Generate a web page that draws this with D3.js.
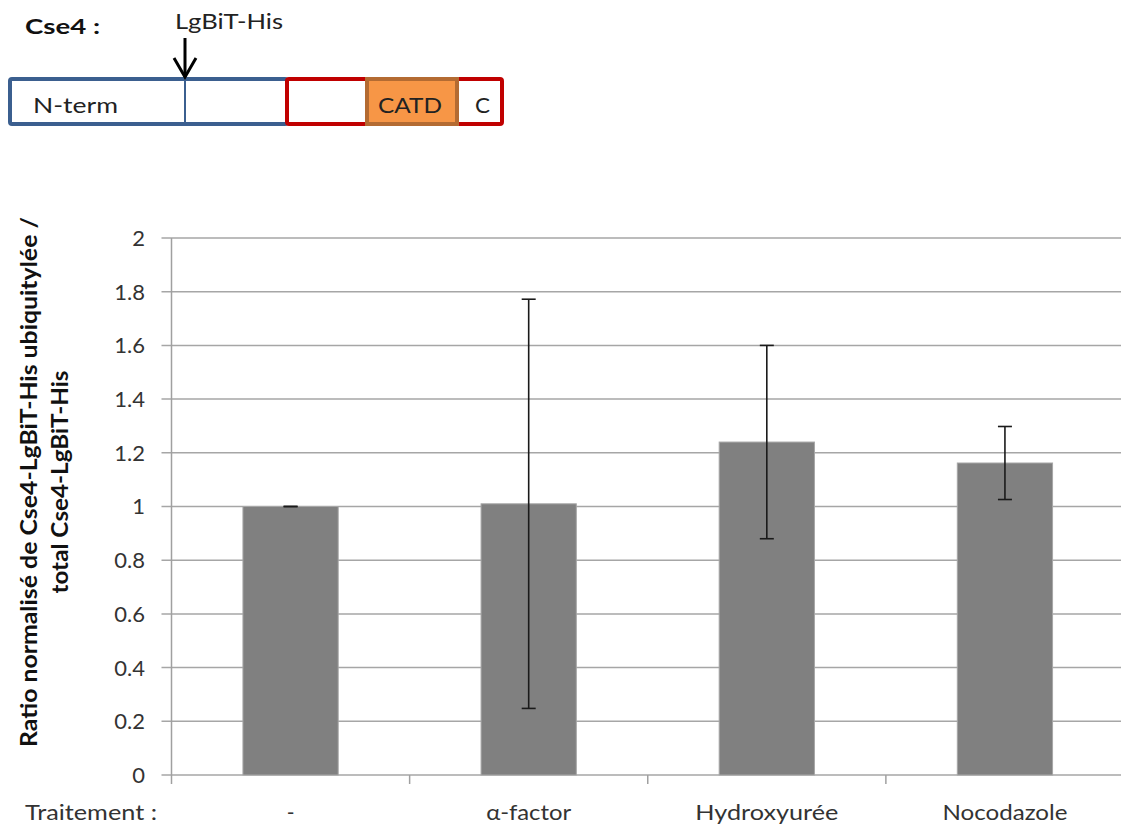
<!DOCTYPE html>
<html>
<head>
<meta charset="utf-8">
<script src="https://cdn.jsdelivr.net/npm/d3@7"></script>
<style>
  html, body { margin: 0; padding: 0; background: #fff; }
  svg { display: block; }
  text { font-family: Lato, "Open Sans", sans-serif; }
</style>
</head>
<body>
<svg id="chart" width="1121" height="827"></svg>
<script>
// ---- data ----
const categories = ["-", "α-factor", "Hydroxyurée", "Nocodazole"];
const values = [1.0, 1.01, 1.24, 1.162];
const errors = [0.0, 0.762, 0.36, 0.136];
const yTicks = [0, 0.2, 0.4, 0.6, 0.8, 1, 1.2, 1.4, 1.6, 1.8, 2];
const yTitleLines = ["Ratio normalisé  de Cse4-LgBiT-His ubiquitylée /", "total Cse4-LgBiT-His"];
const xAxisPrefix = "Traitement :";
// protein diagram segments
const domains = [
  { name: "N-term", start: 0, end: 277, stroke: "#3b5f8f", fill: "#ffffff" },
  { name: "",       start: 277, end: 492, stroke: "#c00000", fill: "#ffffff" },
  { name: "CATD",   start: 357, end: 447, stroke: "#b46b32", fill: "#f79646" }
];
const tagPosition = 175;

// ---- text rendering widths (layout, to mimic the reference's stretched font) ----
const labelWidths = { "α-factor": 85, "Hydroxyurée": 143, "Nocodazole": 125 };

const svg = d3.select("#chart");

function fit(sel, w) {
  if (w) sel.attr("textLength", w).attr("lengthAdjust", "spacingAndGlyphs");
  return sel;
}

// ---- protein diagram ----
const dx = d3.scaleLinear().domain([0, 492]).range([10, 502]);
const dTop = 79, dBot = 124;
const diag = svg.append("g");

fit(diag.append("text").attr("x", 25).attr("y", 34)
  .attr("font-size", 21).attr("font-weight", "bold").attr("fill", "#111")
  .text("Cse4 :"), 75);
fit(diag.append("text").attr("x", 175).attr("y", 29)
  .attr("font-size", 21).attr("fill", "#222")
  .text("LgBiT-His"), 108);

domains.forEach((d, i) => {
  diag.append("rect")
    .attr("x", dx(d.start)).attr("y", dTop)
    .attr("width", dx(d.end) - dx(d.start)).attr("height", dBot - dTop)
    .attr("rx", i < 2 ? 2 : 0)
    .attr("fill", d.fill).attr("stroke", d.stroke).attr("stroke-width", 4);
});
diag.append("line")
  .attr("x1", dx(tagPosition)).attr("x2", dx(tagPosition))
  .attr("y1", dTop).attr("y2", dBot)
  .attr("stroke", domains[0].stroke).attr("stroke-width", 2);
diag.append("line")
  .attr("x1", dx(tagPosition)).attr("x2", dx(tagPosition))
  .attr("y1", 38).attr("y2", 77)
  .attr("stroke", "#000").attr("stroke-width", 3);
diag.append("path")
  .attr("d", `M${dx(tagPosition) - 11},58 L${dx(tagPosition)},77 L${dx(tagPosition) + 11},58`)
  .attr("fill", "none").attr("stroke", "#000").attr("stroke-width", 3);
fit(diag.append("text").attr("x", 33).attr("y", 113)
  .attr("font-size", 21).attr("fill", "#222").text("N-term"), 85);
fit(diag.append("text").attr("x", 378).attr("y", 113)
  .attr("font-size", 21).attr("fill", "#222").text("CATD"), 64);
fit(diag.append("text").attr("x", 475).attr("y", 113)
  .attr("font-size", 21).attr("fill", "#222").text("C"), 15);

// ---- bar chart ----
const pLeft = 171.5, pRight = 1124, pTop = 238, pBottom = 775;
const x = d3.scaleBand().domain(categories).range([pLeft, pRight]).padding(0);
const y = d3.scaleLinear().domain([0, 2]).range([pBottom, pTop]);
const barW = x.bandwidth() * 0.4;

svg.append("g").selectAll("line").data(yTicks).join("line")
  .attr("x1", pLeft - 10).attr("x2", pRight)
  .attr("y1", d => y(d)).attr("y2", d => y(d))
  .attr("stroke", "#a6a6a6").attr("stroke-width", 1.5);

svg.append("line").attr("x1", pLeft).attr("x2", pLeft)
  .attr("y1", pTop).attr("y2", pBottom)
  .attr("stroke", "#a0a0a0").attr("stroke-width", 1.5);

svg.append("g").selectAll("text").data(yTicks).join("text")
  .attr("x", 145).attr("y", d => y(d))
  .attr("dy", "0.36em")
  .attr("text-anchor", "end")
  .attr("font-size", 22)
  .attr("fill", "#333")
  .text(d => d3.format("")(d));

const bounds = categories.map(c => x(c)).concat([pRight]);
svg.append("g").selectAll("line").data(bounds).join("line")
  .attr("x1", d => d).attr("x2", d => d)
  .attr("y1", pBottom).attr("y2", pBottom + 9)
  .attr("stroke", "#a0a0a0").attr("stroke-width", 1.5);

svg.append("g").selectAll("rect").data(categories).join("rect")
  .attr("x", (c) => x(c) + (x.bandwidth() - barW) / 2)
  .attr("y", (c, i) => y(values[i]))
  .attr("width", barW)
  .attr("height", (c, i) => pBottom - y(values[i]))
  .attr("fill", "#808080")
  .attr("stroke", "#a6a6a6").attr("stroke-width", 1);

const eb = svg.append("g").attr("stroke", "#1a1a1a").attr("stroke-width", 1.6);
categories.forEach((c, i) => {
  const cx = x(c) + x.bandwidth() / 2;
  const hi = y(values[i] + errors[i]), lo = y(values[i] - errors[i]);
  eb.append("line").attr("x1", cx).attr("x2", cx).attr("y1", hi).attr("y2", lo);
  eb.append("line").attr("x1", cx - 7).attr("x2", cx + 7).attr("y1", hi).attr("y2", hi);
  eb.append("line").attr("x1", cx - 7).attr("x2", cx + 7).attr("y1", lo).attr("y2", lo);
});

svg.append("g").selectAll("text").data(categories).join("text")
  .attr("x", c => x(c) + x.bandwidth() / 2)
  .attr("y", 820)
  .attr("text-anchor", "middle")
  .attr("font-size", 21)
  .attr("fill", "#333")
  .each(function (c) { fit(d3.select(this), labelWidths[c]); })
  .text(c => c);

fit(svg.append("text").attr("x", 25).attr("y", 820)
  .attr("font-size", 21).attr("fill", "#333").text(xAxisPrefix), 132);

// y title (rotated, two centred lines)
const yTitleBaselines = [37, 68];
const yTitleLengths = [530, 223];
yTitleLines.forEach((t, i) => {
  const s = svg.append("text")
    .attr("transform", `translate(${yTitleBaselines[i]},482) rotate(-90)`)
    .attr("text-anchor", "middle")
    .attr("font-size", 23)
    .attr("font-weight", "bold")
    .attr("fill", "#111")
    .text(t);
  fit(s, yTitleLengths[i]);
});
</script>
</body>
</html>
